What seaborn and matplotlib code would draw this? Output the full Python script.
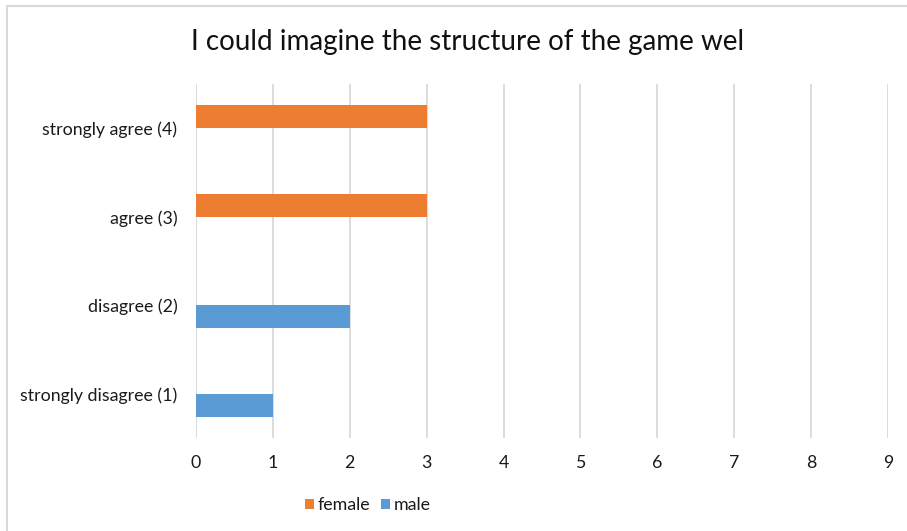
import matplotlib
matplotlib.use("Agg")
import matplotlib.pyplot as plt
import seaborn as sns
import pandas as pd
from matplotlib.patches import Rectangle, Patch

# Survey responses by gender
categories = ["strongly agree (4)", "agree (3)", "disagree (2)", "strongly disagree (1)"]
female = [3, 3, 0, 0]
male = [0, 0, 2, 1]
series = ["female", "male"]
x_ticks = [0, 1, 2, 3, 4, 5, 6, 7, 8, 9]
title = "I could imagine the structure of the game wel"

df = pd.DataFrame({
    "category": categories * 2,
    "count": female + male,
    "gender": [series[0]] * len(categories) + [series[1]] * len(categories),
})

sns.set_theme(style="white")
plt.rcParams["font.family"] = ["Lato", "DejaVu Sans"]

text_color = "#1a1a1a"
colors = {"female": "#ED7D31", "male": "#5B9BD5"}

fig = plt.figure(figsize=(9.07, 5.31), dpi=100)
ax = fig.add_axes([196 / 907, 1 - 438 / 531, (888 - 196) / 907, (438 - 84) / 531])

sns.barplot(data=df, x="count", y="category", hue="gender", order=categories,
            hue_order=series, palette=colors, width=0.52, orient="h",
            saturation=1, legend=False, ax=ax, linewidth=0)

ax.set_xlim(0, 9)
ax.set_ylim(3.5, -0.5)
ax.set_xticks(x_ticks)
ax.set_xticklabels([str(t) for t in x_ticks])
ax.xaxis.grid(True, color="#D9D9D9", linewidth=1.3)
ax.yaxis.grid(False)
ax.set_axisbelow(True)
for s in ax.spines.values():
    s.set_visible(False)
ax.set_xlabel("")
ax.set_ylabel("")
ax.tick_params(axis="x", length=0, pad=12.5, labelsize=12.8, colors=text_color)
ax.tick_params(axis="y", length=0, pad=13.5, labelsize=12.8, colors=text_color)

fig.text(468 / 907, 1 - 42 / 531, title, ha="center", va="center",
         fontsize=20, color="#111111")

handles = [Patch(facecolor=colors[s], edgecolor="none", label=s) for s in series]
fig.legend(handles=handles, loc="center", bbox_to_anchor=(368 / 907, 1 - 505 / 531),
           ncol=2, frameon=False, fontsize=12.8, handlelength=0.5, handleheight=0.5,
           handletextpad=0.2, columnspacing=0.6, labelcolor=text_color)

# outer chart frame
fig.patches.append(Rectangle((7 / 907, -0.1), 1.2, 1 - 6 / 531 + 0.1,
                             transform=fig.transFigure, fill=False,
                             edgecolor="#D9D9D9", linewidth=1.5))

fig.savefig("out.png", dpi=100)
